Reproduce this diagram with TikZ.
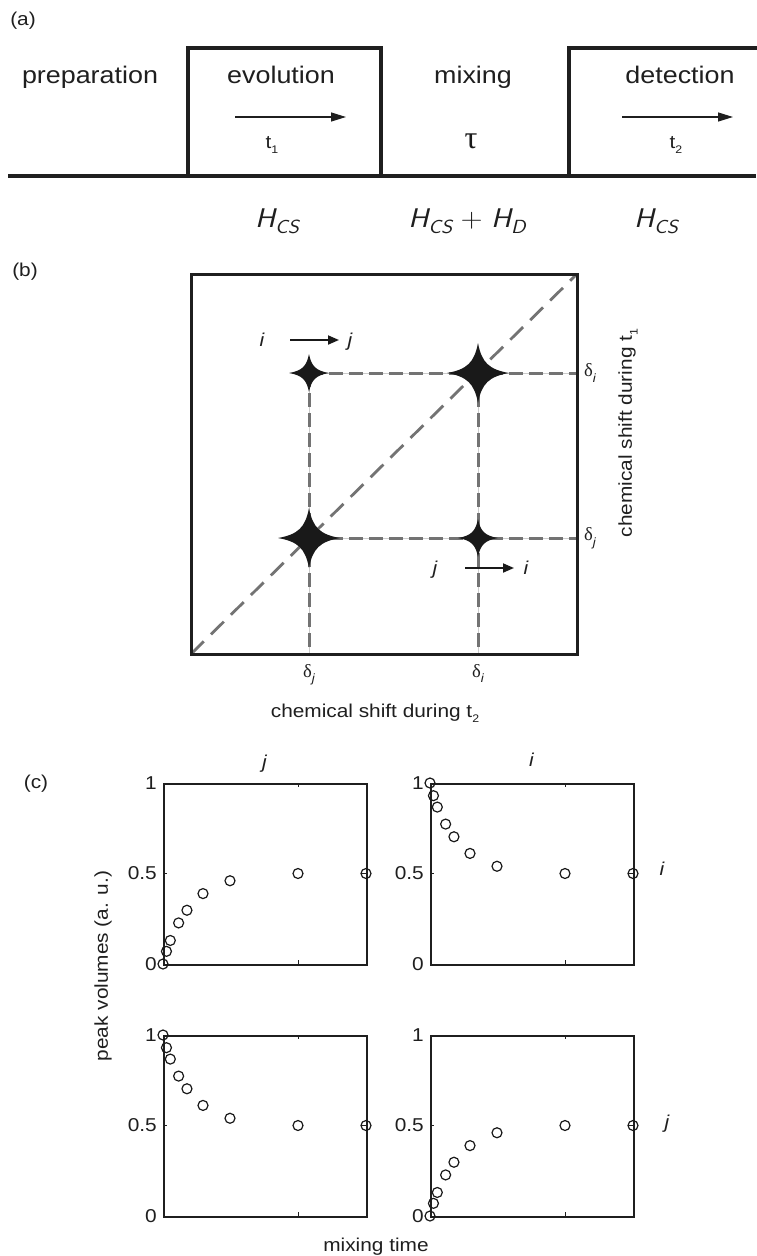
\documentclass[tikz,border=0pt]{standalone}
\usepackage{fontspec}
\setmainfont{Liberation Sans}[FakeStretch=1.12]
\newfontfamily\grk{Liberation Serif}
\usetikzlibrary{arrows.meta}
\newcommand\lowsub[2][11]{\raisebox{-0.3em}{\fontsize{#1}{#1}\selectfont #2}}
\newcommand\Hsym[1]{\scalebox{1.12}[1]{{\sffamily\itshape H}\raisebox{-0.25em}{\fontsize{19}{19}\sffamily\itshape #1}}}
\newcommand\dlt[1]{{\grk δ}\lowsub[12]{\itshape #1}}
% #1 name, #2 x0, #3 y0, #4 data
\newcommand\mplot[4]{%
  \node[pbox, anchor=north west] (#1) at (#2,#3) {};
  \draw[tickln] (#2+135.3,#3) -- ++(0,4);
  \draw[tickln] (#2+135.3,#3+181) -- ++(0,-4);
  \draw[tickln] (#2,#3+90.5) -- ++(4,0);
  \draw[tickln] (#2+203,#3+90.5) -- ++(-4,0);
  \node[lbl, anchor=east] (#1-a) at (#2-6,#3) {1};
  \node[lbl, anchor=east] (#1-b) at (#2-6,#3+90.5) {0.5};
  \node[lbl, anchor=east] (#1-c) at (#2-6,#3+181) {0};
  \foreach \f/\v in {#4} \draw[ptmark] ({#2+\f*203},{#3+(1-\v)*181}) circle[radius=5];
}
\begin{document}
\begin{tikzpicture}[x=1pt,y=-1pt,
  lbl/.style={font=\fontsize{18.6}{22}\selectfont, inner sep=0pt, text=black!88},
  biglbl/.style={font=\fontsize{24}{26}\selectfont, inner sep=0pt, anchor=base, text=black!88},
  seq/.style={line width=4pt, draw=black!88},
  tarrow/.style={line width=1.3pt, draw=black!88, -{Triangle[length=15pt,width=9pt]}},
  parrow/.style={line width=1.8pt, draw=black!90, -{Triangle[length=11pt,width=9pt]}},
  gl/.style={draw=black!55, line width=3pt, dash pattern=on 14pt off 6pt},
  gll/.style={draw=black!20, line width=1pt},
  diag/.style={draw=black!55, line width=2.8pt, dash pattern=on 18pt off 10pt},
  pbox/.style={draw=black!88, line width=1.8pt, minimum width=203pt, minimum height=181pt, inner sep=0pt},
  tickln/.style={draw=black!88, line width=0.8pt},
  ptmark/.style={draw=black!90, line width=1.2pt},
  sparkle/.pic={\fill[black!90] (1,0) .. controls (0.35,0.12) and (0.12,0.35) .. (0,1)
     .. controls (-0.12,0.35) and (-0.35,0.12) .. (-1,0)
     .. controls (-0.35,-0.12) and (-0.12,-0.35) .. (0,-1)
     .. controls (0.12,-0.35) and (0.35,-0.12) .. cycle;}
]
\fill[white] (0,0) rectangle (756,1256);
\useasboundingbox (0,0) rectangle (756,1256);

% ---------------- (a)
\node[lbl] (la) at (23,21) {(a)};
\draw[seq] (8,176) -- (756,176);
\draw[seq, line join=miter] (188,176) -- (188,48) -- (381,48) -- (381,176);
\draw[seq, line join=miter] (569,176) -- (569,48) -- (760,48);
\node[biglbl] (prep) at (90,83) {preparation};
\node[biglbl] (evol) at (281,83) {evolution};
\node[biglbl] (mix) at (473,83) {mixing};
\node[biglbl] (det) at (680,83) {detection};
\coordinate (e1) at (235,117); \coordinate (e2) at (346,117);
\coordinate (d1) at (622,117); \coordinate (d2) at (733,117);
\draw[tarrow] (e1) -- (e2);
\draw[tarrow] (d1) -- (d2);
\node[lbl, anchor=base] (t1) at (272,148) {t\lowsub{1}};
\node[inner sep=0pt, anchor=base, font=\grk\fontsize{32}{32}\selectfont, text=black!90] (tau) at (471,148) {τ};
\node[lbl, anchor=base] (t2) at (676,148) {t\lowsub{2}};
\node[inner sep=0pt, anchor=base, font=\fontsize{27}{30}\selectfont, text=black!88] (h1) at (277,227) {\Hsym{CS}};
\node[inner sep=0pt, anchor=base, font=\fontsize{27}{30}\selectfont, text=black!88] (h2) at (467,227) {\Hsym{CS}\ \scalebox{1.12}[1]{\sffamily+}\ \Hsym{D}};
\node[inner sep=0pt, anchor=base, font=\fontsize{27}{30}\selectfont, text=black!88] (h3) at (656,227) {\Hsym{CS}};

% ---------------- (b)
\node[lbl] (lb) at (25,272) {(b)};
\coordinate (BL) at (191,654); \coordinate (TR) at (577,274);
\coordinate (SA) at (309,373); \coordinate (SB) at (478,373);
\coordinate (SC) at (309,538); \coordinate (SD) at (478,538);
\foreach \p in {SA,SC} \draw[gll] (\p) -- (\p -| TR);
\foreach \p in {SA,SB} \draw[gll] (\p) -- (\p |- BL);
\foreach \p in {SA,SC} \draw[gl] (\p) -- (\p -| TR);
\foreach \p in {SA,SB} \draw[gl] (\p) -- (\p |- BL);
\draw[diag] (BL) -- (TR);
\draw[line width=3pt, draw=black!88] (BL) rectangle (TR);
\pic[xscale=20,yscale=19] at (SA) {sparkle};
\pic[xscale=31,yscale=30] at (SB) {sparkle};
\pic[xscale=31,yscale=30] at (SC) {sparkle};
\pic[xscale=20,yscale=19] at (SD) {sparkle};
\node[lbl, anchor=base, font=\fontsize{18.6}{22}\selectfont\itshape] (ia) at (262,346) {i};
\node[lbl, anchor=base, font=\fontsize{18.6}{22}\selectfont\itshape] (ja) at (350,346) {j};
\coordinate (aa1) at (290,340); \coordinate (aa2) at (339,340);
\draw[parrow] (aa1) -- (aa2);
\node[lbl, anchor=base, font=\fontsize{18.6}{22}\selectfont\itshape] (jb) at (435,574) {j};
\node[lbl, anchor=base, font=\fontsize{18.6}{22}\selectfont\itshape] (ib) at (526,574) {i};
\coordinate (bb1) at (465,568); \coordinate (bb2) at (514,568);
\draw[parrow] (bb1) -- (bb2);
\node[lbl, anchor=west] (di) at (584,373) {\dlt{i}};
\node[lbl, anchor=west] (dj) at (584,538) {\dlt{j}};
\node[lbl, anchor=north] (dj2) at (309,664) {\dlt{j}};
\node[lbl, anchor=north] (di2) at (478,664) {\dlt{i}};
\node[lbl, anchor=base] (xl) at (375,717) {chemical shift during t\lowsub{2}};
\node[lbl, rotate=90] (yl) at (628,433) {chemical shift during t\lowsub{1}};

% ---------------- (c)
\node[lbl] (lc) at (36,784) {(c)};
\mplot{P1}{163}{783}{0/0,0.017/0.07,0.036/0.13,0.077/0.227,0.118/0.297,0.197/0.389,0.33/0.46,0.665/0.5,1/0.5}
\mplot{P2}{430}{783}{0/1,0.017/0.93,0.036/0.867,0.077/0.773,0.118/0.703,0.197/0.611,0.33/0.54,0.665/0.5,1/0.5}
\mplot{P3}{163}{1035}{0/1,0.017/0.93,0.036/0.867,0.077/0.773,0.118/0.703,0.197/0.611,0.33/0.54,0.665/0.5,1/0.5}
\mplot{P4}{430}{1035}{0/0,0.017/0.07,0.036/0.13,0.077/0.227,0.118/0.297,0.197/0.389,0.33/0.46,0.665/0.5,1/0.5}
\node[lbl, anchor=base, font=\fontsize{18.6}{22}\selectfont\itshape] (tj) at (264.5,768) {j};
\node[lbl, anchor=base, font=\fontsize{18.6}{22}\selectfont\itshape] (ti) at (531.5,766) {i};
\node[lbl, anchor=base, font=\fontsize{18.6}{22}\selectfont\itshape] (ri) at (662,875) {i};
\node[lbl, anchor=base, font=\fontsize{18.6}{22}\selectfont\itshape] (rj) at (667,1128) {j};
\node[lbl, rotate=90] (pv) at (103,966) {peak volumes (a. u.)};
\node[lbl, anchor=base] (mt) at (376,1251) {mixing time};
\end{tikzpicture}
\end{document}
